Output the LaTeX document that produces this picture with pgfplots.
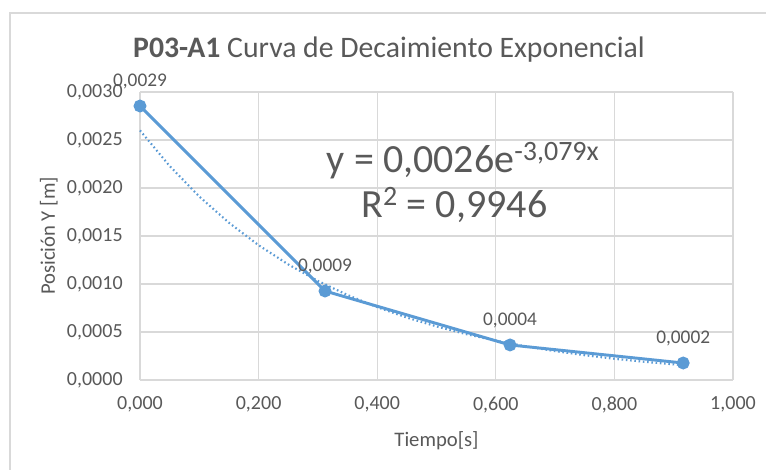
\documentclass[border=0pt]{standalone}
\usepackage{fontspec}
\setmainfont{Carlito}
\usepackage{pgfplots}
\pgfplotsset{compat=1.18}
\definecolor{txt}{HTML}{595959}
\definecolor{grd}{HTML}{D9D9D9}
\definecolor{ser}{HTML}{5B9BD5}
\begin{document}
\begin{tikzpicture}
\useasboundingbox (0pt,0pt) rectangle (574.5pt,352.5pt);
\fill[white] (0pt,0pt) rectangle (574.5pt,352.5pt);
\draw[grd,line width=0.8pt] (7.5pt,-2pt) -- (7.5pt,342.75pt) -- (580pt,342.75pt);
\begin{axis}[
  at={(105pt,67.5pt)}, anchor=south west,
  scale only axis, width=444.75pt, height=216pt,
  xmin=0, xmax=1, ymin=0, ymax=0.003,
  xtick={0,0.2,0.4,0.6,0.8,1},
  ytick={0,0.0005,0.001,0.0015,0.002,0.0025,0.003},
  xticklabels={{0,000},{0,200},{0,400},{0,600},{0,800},{1,000}},
  yticklabels={{0,0000},{0,0005},{0,0010},{0,0015},{0,0020},{0,0025},{0,0030}},
  scaled y ticks=false,
  grid=major,
  major grid style={grd,line width=0.8pt},
  axis line style={grd,line width=0.8pt},
  axis x line*=bottom, axis y line*=left,
  separate axis lines,
  y axis line style={draw=none},
  tick style={draw=none},
  ticklabel style={font=\fontsize{15}{17}\selectfont,text=txt},
  xticklabel style={yshift=-9pt},
  yticklabel style={xshift=-9.5pt},
  xlabel={Tiempo[s]}, ylabel={Posición Y [m]},
  label style={font=\fontsize{15.5}{18}\selectfont,text=txt},
  xlabel style={yshift=-7pt},
  ylabel style={yshift=0pt},
  clip=false,
  title={\textbf{P03-A1} Curva de Decaimiento Exponencial},
  title style={font=\fontsize{22.3}{25}\selectfont,text=txt,yshift=13pt,xshift=-35.6pt},
]
\addplot[ser, line width=1.6pt, dash pattern=on 1.2pt off 2pt] coordinates {
(0,0.002600)(0.05,0.002229)(0.1,0.001911)(0.15,0.001638)(0.2,0.001404)(0.25,0.001204)
(0.3,0.001032)(0.35,0.000885)(0.4,0.000759)(0.45,0.000650)(0.5,0.000558)(0.55,0.000478)
(0.6,0.000410)(0.65,0.000351)(0.7,0.000301)(0.75,0.000258)(0.8,0.000221)(0.85,0.000190)
(0.9,0.000163)(0.915,0.000155)};
\addplot[ser, line width=2.2pt, mark=*, mark size=3.7pt, mark options={fill=ser,draw=ser},
  nodes near coords,
  point meta=explicit symbolic,
  every node near coord/.append style={font=\fontsize{14.5}{16}\selectfont,text=txt,yshift=8.5pt}
] coordinates {
(0,0.002854)[0,0029] (0.312,0.000927)[0,0009] (0.624,0.000365)[0,0004] (0.916,0.000177)[0,0002]};
\node[text=txt,font=\fontsize{30}{34}\selectfont] at (axis cs:0.545,0.00228) {y = 0,0026e\textsuperscript{-3,079x}};
\node[text=txt,font=\fontsize{30}{34}\selectfont] at (axis cs:0.53,0.00182) {R\textsuperscript{2} = 0,9946};
\end{axis}
\end{tikzpicture}
\end{document}
